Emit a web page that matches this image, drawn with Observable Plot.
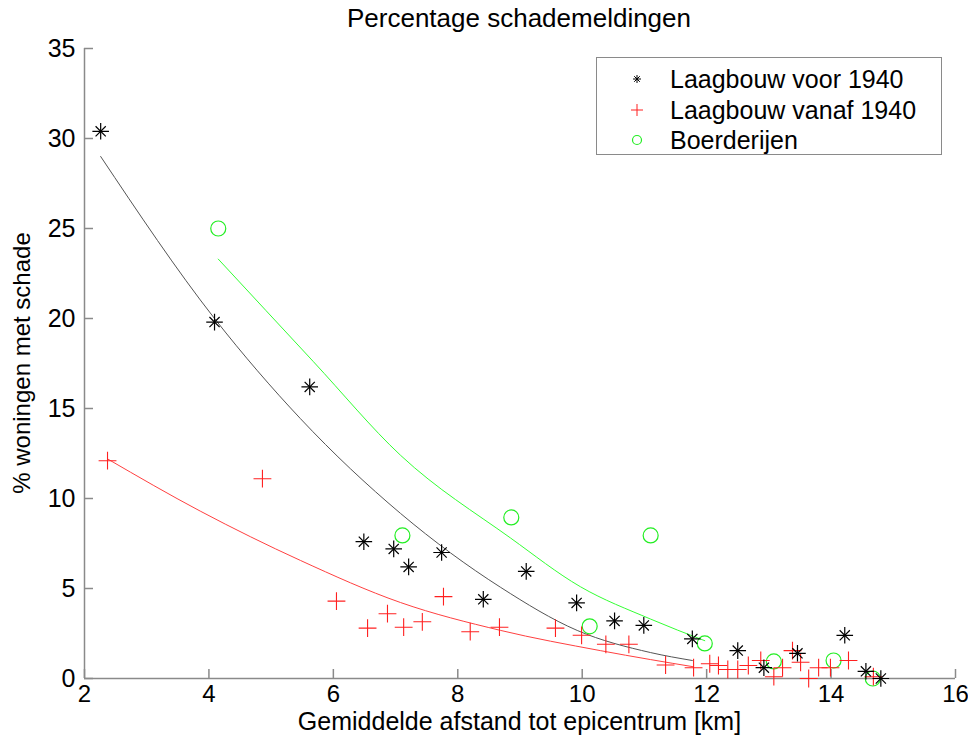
<!DOCTYPE html>
<html>
<head>
<meta charset="utf-8">
<script src="https://cdn.jsdelivr.net/npm/d3@7"></script>
<script src="https://cdn.jsdelivr.net/npm/@observablehq/plot@0.6"></script>
<style>
  html, body { margin: 0; padding: 0; background: #fff; }
  #wrap { position: relative; width: 968px; height: 742px; font-family: "Liberation Sans", Arial, sans-serif; color: #000; overflow: hidden; }
  #chart { position: absolute; left: 0; top: 0; }
  .abs { position: absolute; white-space: nowrap; }
  #legend { position: absolute; left: 596px; top: 57px; width: 346px; height: 98px; border: 1px solid #8a8a8a; background: #fff; box-sizing: border-box; }
  .lrow { position: absolute; left: 0; height: 30px; line-height: 30px; font-size: 25px; }
  .lrow svg { position: absolute; left: 30px; top: 5px; }
  .lrow span { position: absolute; left: 73px; top: 0; }
</style>
</head>
<body>
<div id="wrap">
  <div id="chart"></div>
  <div class="abs" id="title" style="left:0;width:1038px;text-align:center;top:3px;font-size:26px;">Percentage schademeldingen</div>
  <div class="abs" id="xlabel" style="left:0;width:1039px;text-align:center;top:707px;font-size:25px;line-height:28px;">Gemiddelde afstand tot epicentrum [km]</div>
  <div class="abs" id="ylabel" style="left:22px;top:363px;font-size:24px;transform:translate(-50%,-50%) rotate(-90deg);">% woningen met schade</div>
  <div id="legend"></div>
</div>
<script>
// ---- data ----
const seriesNames = ["Laagbouw voor 1940", "Laagbouw vanaf 1940", "Boerderijen"];

const voorX = [2.26, 4.09, 5.62, 6.49, 6.97, 7.21, 7.74, 8.41, 9.10, 9.91, 10.52, 10.99, 11.77, 12.50, 12.92, 13.46, 14.22, 14.56, 14.80];
const voorY = [30.4, 19.8, 16.2, 7.6, 7.2, 6.2, 7.0, 4.4, 5.95, 4.2, 3.2, 2.95, 2.2, 1.55, 0.6, 1.4, 2.4, 0.4, 0.0];
const voorFitX = [2.26, 4.09, 5.47, 7.08, 8.69, 9.92, 11.10, 11.77];
const voorFitY = [29.0, 20.0, 14.44, 9.17, 5.06, 2.67, 1.44, 1.0];

const vanafX = [2.37, 4.86, 6.05, 6.55, 6.87, 7.13, 7.43, 7.77, 8.20, 8.67, 9.57, 9.99, 10.38, 10.75, 11.34, 11.79, 12.05, 12.19, 12.34, 12.50, 12.67, 12.87, 13.08, 13.22, 13.38, 13.51, 13.64, 13.80, 13.99, 14.28, 14.68];
const vanafY = [12.1, 11.1, 4.3, 2.8, 3.6, 2.85, 3.15, 4.55, 2.6, 2.85, 2.8, 2.4, 1.9, 1.9, 0.75, 0.6, 0.82, 0.72, 0.5, 0.5, 0.72, 1.0, 0.1, 0.6, 1.55, 0.9, 0.0, 0.6, 0.6, 1.0, 0.1];
const vanafFitX = [2.37, 3.86, 5.47, 7.08, 8.69, 10.29, 11.10, 11.79];
const vanafFitY = [12.2, 9.3, 6.56, 4.22, 2.67, 1.55, 1.05, 0.65];

const boerX = [4.15, 7.11, 8.86, 10.12, 11.10, 11.97, 13.08, 14.04, 14.67];
const boerY = [25.0, 7.95, 8.95, 2.9, 7.95, 1.95, 0.95, 1.0, 0.0];
const boerFitX = [4.15, 5.68, 7.08, 8.85, 9.97, 11.10, 11.97];
const boerFitY = [23.3, 17.6, 12.4, 7.8, 5.1, 3.3, 2.1];

const xTicks = [2, 4, 6, 8, 10, 12, 14, 16];
const yTicks = [0, 5, 10, 15, 20, 25, 30, 35];

const colVoor = "#000000", colVanaf = "#ff2020", colBoer = "#22ee22";
const fitVoor = "#555555", fitVanaf = "#ff4040", fitBoer = "#33ff33";
const axisCol = "#8a8a8a";

// ---- build tables ----
const zip = (xs, ys) => xs.map((x, i) => ({x, y: ys[i]}));
const voor = zip(voorX, voorY), voorFit = zip(voorFitX, voorFitY);
const vanaf = zip(vanafX, vanafY), vanafFit = zip(vanafFitX, vanafFitY);
const boer = zip(boerX, boerY), boerFit = zip(boerFitX, boerFitY);

const chart = Plot.plot({
  width: 968,
  height: 742,
  marginLeft: 84,
  marginRight: 13,
  marginTop: 48,
  marginBottom: 64,
  style: {fontFamily: "Liberation Sans, Arial, sans-serif", color: "#000", background: "transparent"},
  x: {domain: [2, 16]},
  y: {domain: [0, 35]},
  marks: [
    Plot.axisX({ticks: xTicks, tickSize: 0, tickPadding: 6, fontSize: 24, label: null, tickFormat: d => String(d)}),
    Plot.axisY({ticks: yTicks, tickSize: 0, tickPadding: 9, fontSize: 25, label: null, tickFormat: d => String(d)}),
    Plot.ruleY([0], {stroke: axisCol, strokeWidth: 1.5}),
    Plot.ruleX([2], {stroke: axisCol, strokeWidth: 1.5}),
    Plot.ruleX(xTicks, {x: d => d, y1: 0, y2: 0.5, stroke: axisCol, strokeWidth: 1.5}),
    Plot.ruleY(yTicks, {y: d => d, x1: 2, x2: 2.145, stroke: axisCol, strokeWidth: 1.5}),
    Plot.line(voorFit, {x: "x", y: "y", stroke: fitVoor, strokeWidth: 1, curve: "monotone-x"}),
    Plot.line(vanafFit, {x: "x", y: "y", stroke: fitVanaf, strokeWidth: 1, curve: "monotone-x"}),
    Plot.line(boerFit, {x: "x", y: "y", stroke: fitBoer, strokeWidth: 1, curve: "monotone-x"}),
    Plot.dot(boer, {x: "x", y: "y", symbol: "circle", r: 7.5, stroke: colBoer, strokeWidth: 1.2, fill: "none"}),
    Plot.dot(vanaf, {x: "x", y: "y", symbol: "plus", r: 5.8, stroke: colVanaf, strokeWidth: 1.1}),
    Plot.dot(voor, {x: "x", y: "y", symbol: "plus", r: 5.4, stroke: colVoor, strokeWidth: 1.2}),
    Plot.dot(voor, {x: "x", y: "y", symbol: "times", r: 4.7, stroke: colVoor, strokeWidth: 1.2})
  ]
});
document.getElementById("chart").appendChild(chart);

// ---- legend ----
const legend = document.getElementById("legend");
const markers = [
  `<svg width="20" height="20"><g stroke="${colVoor}" stroke-width="1"><line x1="6" y1="10" x2="14" y2="10"/><line x1="10" y1="6" x2="10" y2="14"/><line x1="7.2" y1="7.2" x2="12.8" y2="12.8"/><line x1="7.2" y1="12.8" x2="12.8" y2="7.2"/></g></svg>`,
  `<svg width="20" height="20"><g stroke="${colVanaf}" stroke-width="1"><line x1="4" y1="10" x2="16" y2="10"/><line x1="10" y1="4" x2="10" y2="16"/></g></svg>`,
  `<svg width="20" height="20"><circle cx="10" cy="10" r="4.5" fill="none" stroke="${colBoer}" stroke-width="1.2"/></svg>`
];
seriesNames.forEach((name, i) => {
  const row = document.createElement("div");
  row.className = "lrow";
  row.style.top = (6 + i * 30.5) + "px";
  row.style.width = "340px";
  row.innerHTML = markers[i] + `<span>${name}</span>`;
  legend.appendChild(row);
});
</script>
</body>
</html>
